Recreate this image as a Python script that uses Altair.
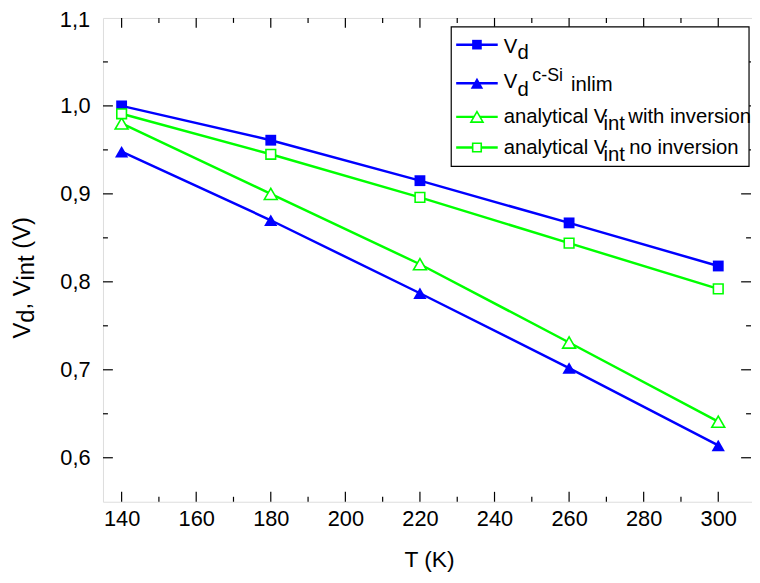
import altair as alt
import pandas as pd

# ---------------- data ----------------
T = [140, 180, 220, 260, 300]
vd = [1.000, 0.961, 0.915, 0.867, 0.818]
vd_csi = [0.948, 0.870, 0.787, 0.702, 0.614]
vint_inv = [0.980, 0.900, 0.820, 0.731, 0.641]
vint_noinv = [0.991, 0.945, 0.896, 0.844, 0.792]

series_names = ["Vd", "Vd c-Si inlim", "Vint with inversion", "Vint no inversion"]
series_values = [vd, vd_csi, vint_inv, vint_noinv]
series_colors = ["#0000FF", "#0000FF", "#00FF00", "#00FF00"]

x_major = [140, 160, 180, 200, 220, 240, 260, 280, 300]
x_minor = [150, 170, 190, 210, 230, 250, 270, 290]
y_major = [0.6, 0.7, 0.8, 0.9, 1.0]
y_minor = [0.65, 0.75, 0.85, 0.95, 1.05]
y_top_label = [1.1]

# ---------------- layout ----------------
FONT = "Liberation Sans"
W, H = 656, 489
OX, OY = 104, 15  # page position of plot origin
X_DOMAIN = [135, 309.05]
Y_DOMAIN = [0.55, 1.1]

xs = alt.Scale(domain=X_DOMAIN, nice=False, zero=False)
ys = alt.Scale(domain=Y_DOMAIN, nice=False, zero=False)

rows = []
for name, vals in zip(series_names, series_values):
    for t, v in zip(T, vals):
        rows.append({"series": name, "T": t, "V": v})
df = pd.DataFrame(rows)

one = pd.DataFrame({"k": [0]})

base = alt.Chart(df)

lines = base.mark_line(strokeWidth=2.5).encode(
    x=alt.X("T:Q", scale=xs,
            axis=alt.Axis(values=x_major, ticks=False, tickSize=0, domain=False, grid=False,
                          labelFont=FONT, labelFontSize=22, labelColor="black",
                          labelPadding=7, title=None, labelFlush=False)),
    y=alt.Y("V:Q", scale=ys,
            axis=alt.Axis(values=y_major, ticks=False, tickSize=0, domain=False, grid=False,
                          labelFont=FONT, labelFontSize=22, labelColor="black",
                          labelPadding=13, title=None, labelFlush=False,
                          labelExpr="replace(format(datum.value, '.1f'), '.', ',')")),
    color=alt.Color("series:N", scale=alt.Scale(domain=series_names, range=series_colors), legend=None),
    detail="series:N",
)

# top y label (nudged down slightly so it is not clipped by the page edge)
top_label = alt.Chart(pd.DataFrame({"t": y_top_label})).transform_calculate(
    lab="replace(format(datum.t, '.1f'), '.', ',')"
).mark_text(align="right", baseline="middle", font=FONT, fontSize=22, color="black", dx=-13, dy=2).encode(
    y=alt.Y("t:Q", scale=ys), x=alt.value(0), text="lab:N")

def pts(name, shape, filled, size, color):
    d = df[df["series"] == name]
    if filled:
        m = alt.Chart(d).mark_point(shape=shape, filled=True, size=size, color=color, opacity=1)
    else:
        m = alt.Chart(d).mark_point(shape=shape, filled=True, size=size, fill="white",
                                   stroke=color, strokeWidth=1.6, opacity=1)
    return m.encode(x=alt.X("T:Q", scale=xs), y=alt.Y("V:Q", scale=ys))

points = [
    pts(series_names[0], "square", True, 120, "#0000FF"),
    pts(series_names[1], "triangle-up", True, 180, "#0000FF"),
    pts(series_names[2], "triangle-up", False, 170, "#00FF00"),
    pts(series_names[3], "square", False, 95, "#00FF00"),
]

# ---------------- inward ticks ----------------
def xticks(vals, y0, y1):
    return alt.Chart(pd.DataFrame({"t": vals})).mark_rule(color="black", strokeWidth=1.2).encode(
        x=alt.X("t:Q", scale=xs), y=alt.value(y0), y2=alt.value(y1))

def yticks(vals, x0, x1):
    return alt.Chart(pd.DataFrame({"t": vals})).mark_rule(color="black", strokeWidth=1.2).encode(
        y=alt.Y("t:Q", scale=ys), x=alt.value(x0), x2=alt.value(x1))

ticks = [
    xticks(x_major, H, H - 10), xticks(x_minor, H, H - 5),
    xticks(x_major, 0, 10), xticks(x_minor, 0, 5),
    yticks(y_major, 0, 10), yticks(y_minor, 0, 5),
    yticks(y_major, W - 1, W - 11), yticks(y_minor, W - 1, W - 6),
]

# ---------------- text helpers ----------------
ADV = {"V": 0.667, "d": 0.556, ",": 0.278, " ": 0.278, "i": 0.222, "n": 0.556,
       "t": 0.278, "(": 0.333, ")": 0.333}

def width(s, size):
    return sum(ADV.get(c, 0.556) for c in s) * size

def txt(s, px, py, size, angle=None):
    kw = dict(text=s, align="left", baseline="alphabetic", font=FONT, fontSize=size, color="black")
    if angle is not None:
        kw["angle"] = angle
    return alt.Chart(one).mark_text(**kw).encode(x=alt.value(px - OX), y=alt.value(py - OY))

texts = []
# x title
texts.append(alt.Chart(one).mark_text(text="T (K)", align="center", baseline="alphabetic",
                                      font=FONT, fontSize=23, color="black").encode(
    x=alt.value(434 - OX), y=alt.value(570 - OY)))

# y title with subscripts, rotated; (text, baseline shift, leading gap in em)
ysz = 24
pieces = [("V", 0, 0.0), ("d", 4, 0.0), (", V", 0, 0.0), ("int", 4, 0.0), ("(V)", 0, 0.278)]
cy = 339
for s, sh, gap in pieces:
    cy -= gap * ysz
    texts.append(txt(s, 30 + sh, cy, ysz, angle=270))
    cy -= width(s, ysz)

# ---------------- legend ----------------
legend = [alt.Chart(one).mark_rect(fill="white", stroke="black", strokeWidth=1.2).encode(
    x=alt.value(456 - OX), x2=alt.value(757 - OX), y=alt.value(24 - OY), y2=alt.value(165 - OY))]

leg_rows = [(42, "#0000FF", "square", True, 95),
            (81, "#0000FF", "triangle-up", True, 160),
            (115, "#00FF00", "triangle-up", False, 150),
            (146, "#00FF00", "square", False, 75)]
for ry, col, shape, filled, size in leg_rows:
    legend.append(alt.Chart(one).mark_rule(color=col, strokeWidth=2.5).encode(
        x=alt.value(461 - OX), x2=alt.value(503 - OX), y=alt.value(ry - OY)))
    if filled:
        mk = alt.Chart(one).mark_point(shape=shape, filled=True, size=size, color=col, opacity=1)
    else:
        mk = alt.Chart(one).mark_point(shape=shape, filled=True, size=size, fill="white",
                                      stroke=col, strokeWidth=1.6, opacity=1)
    legend.append(mk.encode(x=alt.value(482 - OX), y=alt.value(ry - OY)))

LS = 20.5
leg_text = [
    ("V", 509, 50, LS), ("d", 523, 57, LS),
    ("V", 509, 86, LS), ("d", 523, 94, LS), ("c-Si", 538, 79, 18), ("inlim", 577, 89, LS),
    ("analytical V", 509, 121, LS), ("int", 610, 128, LS), ("with inversion", 635, 121, LS),
    ("analytical V", 509, 153, LS), ("int", 610, 160, LS), ("no inversion", 636, 153, LS),
]
for s, px, py, sz in leg_text:
    legend.append(txt(s, px, py, sz))

chart = alt.layer(lines, top_label, *points, *ticks, *texts, *legend).properties(
    width=W, height=H,
    padding={"left": OX - 8, "top": OY - 8, "right": 0, "bottom": 70},
    autosize=alt.AutoSizeParams(type="none"),
).configure_view(stroke="black", strokeWidth=1.5).configure(background="white")

chart.save("out.html", embed_options={"renderer": "svg", "actions": False})
